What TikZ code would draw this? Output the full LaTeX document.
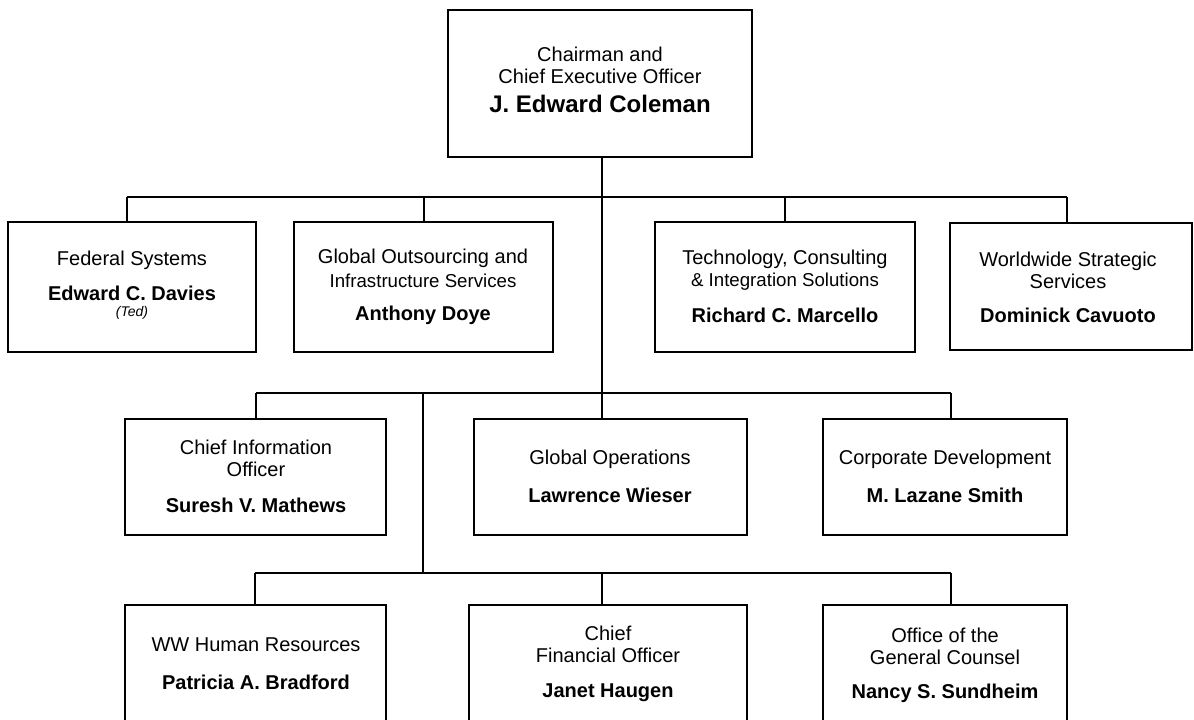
\documentclass[tikz,border=0pt]{standalone}
\usepackage{fontspec}
\setmainfont{Liberation Sans}
\begin{document}
\begin{tikzpicture}[x=0.75pt,y=-0.75pt,
  orgbox/.style={draw=black, line width=1.4pt, rectangle, inner sep=0pt},
  wire/.style={draw=black, line width=1.4pt},
  title/.style={font=\fontsize{15}{16.5}\selectfont, align=center, inner sep=0pt},
  titlesm/.style={font=\fontsize{14}{16.5}\selectfont, align=center, inner sep=0pt},
  who/.style={font=\bfseries\fontsize{15}{17}\selectfont, inner sep=0pt},
  nick/.style={font=\itshape\fontsize{10.5}{12}\selectfont, inner sep=0pt}]
\useasboundingbox (0,0) rectangle (1194,719);
\clip (0,0) rectangle (1194,719);

% box from (x1,y1) to (x2,y2), in pixel units
\newcommand\orgbox[5]{%
  \node[orgbox, minimum width={(#4-#2)*0.75pt}, minimum height={(#5-#3)*0.75pt}]
    (#1) at ({(#2+#4)/2},{(#3+#5)/2}) {};}

% ---- boxes ----
\orgbox{ceo}{448}{10}{752}{157}
\orgbox{fed}{8}{222}{256}{352}
\orgbox{gois}{294}{222}{553}{352}
\orgbox{tcis}{655}{222}{915}{352}
\orgbox{wss}{950}{223}{1192}{350}
\orgbox{cio}{125}{419}{386}{535}
\orgbox{gops}{474}{419}{747}{535}
\orgbox{cdev}{823}{419}{1067}{535}
\orgbox{hr}{125}{605}{386}{745}
\orgbox{cfo}{469}{605}{747}{745}
\orgbox{ogc}{823}{605}{1067}{745}

% ---- texts ----
\node[title] (ceoT) at (600,65) {Chairman and\\Chief Executive Officer};
\node[who, font=\bfseries\fontsize{18}{20}\selectfont] (ceoN) at (600,104) {J. Edward Coleman};

\node[title] (fedT) at (132,260) {Federal Systems};
\node[who] (fedN) at (132,293) {Edward C. Davies};
\node[nick] (fedK) at (132,313) {(Ted)};

\node[title] (goisT1) at (423,258) {Global Outsourcing and};
\node[titlesm] (goisT2) at (423,281) {Infrastructure Services};
\node[who] (goisN) at (423,315) {Anthony Doye};

\node[title] (tcisT1) at (785,259) {Technology, Consulting};
\node[titlesm] (tcisT2) at (785,282) {\& Integration Solutions};
\node[who] (tcisN) at (785,315) {Richard C. Marcello};

\node[title] (wssT) at (1068,270) {Worldwide Strategic\\Services};
\node[who] (wssN) at (1068,315) {Dominick Cavuoto};

\node[title] (cioT) at (256,458) {Chief Information\\Officer};
\node[who] (cioN) at (256,505) {Suresh V. Mathews};

\node[title] (gopsT) at (610,459) {Global Operations};
\node[who] (gopsN) at (610,495) {Lawrence Wieser};

\node[title] (cdevT) at (945,459) {Corporate Development};
\node[who] (cdevN) at (945,495) {M. Lazane Smith};

\node[title] (hrT) at (256,645) {WW Human Resources};
\node[who] (hrN) at (256,682) {Patricia A. Bradford};

\node[title] (cfoT) at (608,644) {Chief\\Financial Officer};
\node[who] (cfoN) at (608,693) {Janet Haugen};

\node[title] (ogcT) at (945,646) {Office of the\\General Counsel};
\node[who] (ogcN) at (945,693) {Nancy S. Sundheim};

% ---- connector junctions ----
\coordinate (trunk) at (602,197);
\coordinate (b1a) at (127,197);
\coordinate (b1b) at (424,197);
\coordinate (b1c) at (785,197);
\coordinate (b1d) at (1067,197);
\coordinate (b2a) at (256,393);
\coordinate (b2m) at (423,393);
\coordinate (b2c) at (951,393);
\coordinate (b3a) at (255,573);
\coordinate (b3m) at (423,573);
\coordinate (b3b) at (602,573);
\coordinate (b3c) at (951,573);

% ---- connectors ----
\draw[wire] (trunk |- ceo.south) -- (trunk |- gops.north);
\draw[wire] (b1a) -- (b1d);
\draw[wire] (b1a) -- (b1a |- fed.north);
\draw[wire] (b1b) -- (b1b |- gois.north);
\draw[wire] (b1c) -- (b1c |- tcis.north);
\draw[wire] (b1d) -- (b1d |- wss.north);
\draw[wire] (b2a) -- (b2c);
\draw[wire] (b2a) -- (b2a |- cio.north);
\draw[wire] (b2c) -- (b2c |- cdev.north);
\draw[wire] (b2m) -- (b3m);
\draw[wire] (b3a) -- (b3c);
\draw[wire] (b3a) -- (b3a |- hr.north);
\draw[wire] (b3b) -- (b3b |- cfo.north);
\draw[wire] (b3c) -- (b3c |- ogc.north);
\end{tikzpicture}
\end{document}
